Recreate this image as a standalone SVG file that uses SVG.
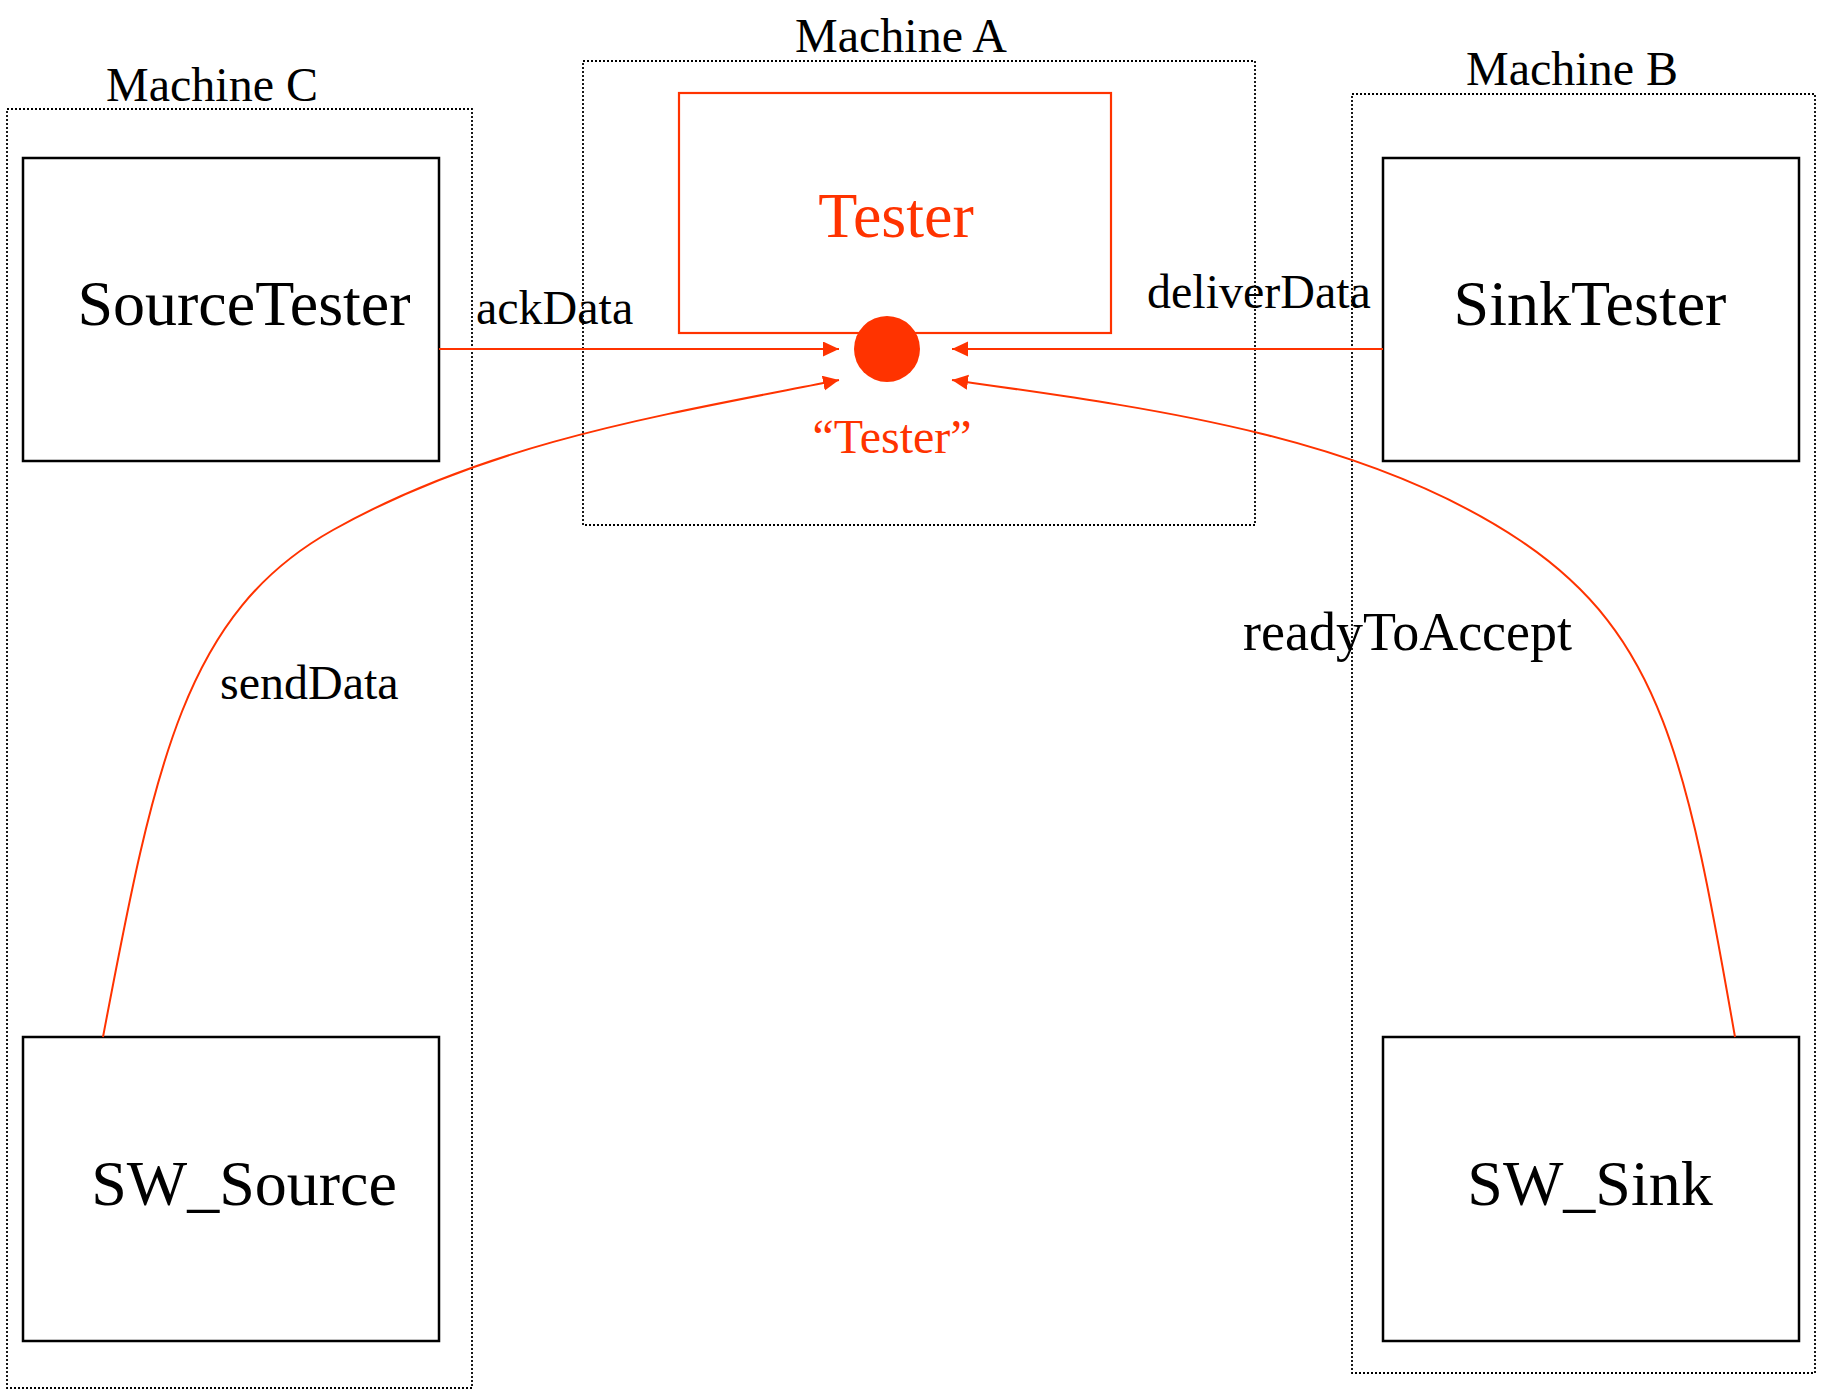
<svg xmlns="http://www.w3.org/2000/svg" width="1835" height="1389" viewBox="0 0 1835 1389">
<style>
.bg{fill:#ffffff}
.machine{fill:none;stroke:#000;stroke-width:1.8;stroke-dasharray:2 2}
.box{fill:#fff;stroke:#000;stroke-width:2.5}
.rbox{fill:none;stroke:#FF3300;stroke-width:2.2}
.lbl{font-family:"Liberation Serif","Times New Roman",serif;fill:#000}
.big{font-size:64px}
.mid{font-size:48px}
.red{fill:#FF3300}
.conn{fill:none;stroke:#FF3300;stroke-width:2}
</style>
<defs>
<marker id="arr" markerUnits="userSpaceOnUse" markerWidth="17" markerHeight="16" refX="16" refY="7.5" orient="auto" viewBox="0 0 17 16">
<path d="M0,0 L16,7.5 L0,15 z" fill="#FF3300"/>
</marker>
</defs>
<rect class="bg" x="0" y="0" width="1835" height="1389"/>

<g id="machineC">
<rect class="machine" x="7" y="109" width="465" height="1279"/>
<text class="lbl mid" x="212" y="101" text-anchor="middle">Machine C</text>
</g>
<g id="machineA">
<rect class="machine" x="583" y="61" width="672" height="464"/>
<text class="lbl mid" x="901" y="52" text-anchor="middle">Machine A</text>
</g>
<g id="machineB">
<rect class="machine" x="1352" y="94" width="463" height="1279"/>
<text class="lbl mid" x="1572" y="85" text-anchor="middle">Machine B</text>
</g>

<g id="sourceTester">
<rect class="box" x="23" y="158" width="416" height="303"/>
<text class="lbl big" x="244" y="325" text-anchor="middle">SourceTester</text>
</g>
<g id="swSource">
<rect class="box" x="23" y="1037" width="416" height="304"/>
<text class="lbl big" x="244" y="1205" text-anchor="middle">SW_Source</text>
</g>
<g id="sinkTester">
<rect class="box" x="1383" y="158" width="416" height="303"/>
<text class="lbl big" x="1590" y="325" text-anchor="middle">SinkTester</text>
</g>
<g id="swSink">
<rect class="box" x="1383" y="1037" width="416" height="304"/>
<text class="lbl big" x="1590" y="1205" text-anchor="middle">SW_Sink</text>
</g>
<g id="tester">
<rect class="rbox" x="679" y="93" width="432" height="240"/>
<text class="lbl big red" x="896" y="237" text-anchor="middle">Tester</text>
</g>
<g id="testerPort">
<circle cx="887" cy="349" r="33" fill="#FF3300"/>
<text class="lbl mid red" x="892" y="453" text-anchor="middle">“Tester”</text>
</g>

<g id="connectors">
<line class="conn" x1="439" y1="349" x2="839" y2="349" marker-end="url(#arr)"/>
<line class="conn" x1="1383" y1="349" x2="952" y2="349" marker-end="url(#arr)"/>
<path class="conn" d="M103,1037 C155,762 185,613 333,530 C490,442 662,415 839,380" marker-end="url(#arr)"/>
<path class="conn" d="M1735,1037 C1687,761 1662,636 1521,541 C1363,435 1150,408 952,380" marker-end="url(#arr)"/>
<text class="lbl mid" x="476" y="324">ackData</text>
<text class="lbl mid" x="1147" y="308">deliverData</text>
<text class="lbl mid" x="220" y="699">sendData</text>
<text class="lbl" style="font-size:54px" x="1243" y="650">readyToAccept</text>
</g>
</svg>
